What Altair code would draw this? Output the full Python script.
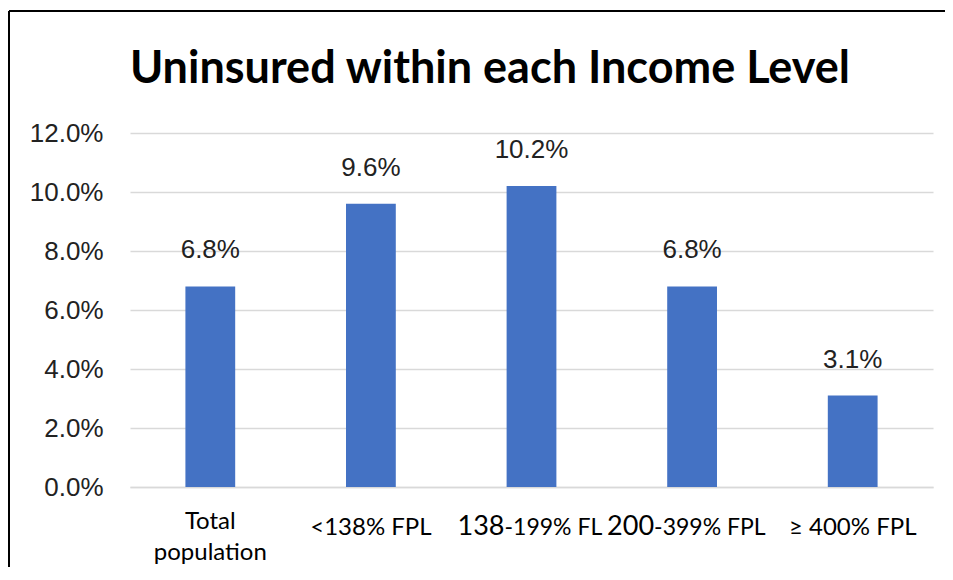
import altair as alt
import pandas as pd

categories = ["Total population", "<138% FPL", "138-199% FL", "200-399% FPL", "≥ 400% FPL"]
values = [6.8, 9.6, 10.2, 6.8, 3.1]
y_ticks = [0, 2, 4, 6, 8, 10, 12]
title_text = "Uninsured within each Income Level"

df = pd.DataFrame({"cat": categories, "val": values})
df["lbl"] = [f"{v:.1f}%" for v in values]

xs = alt.Scale(paddingInner=0.69, paddingOuter=0.345)
x_enc = alt.X("cat:N", sort=categories, scale=xs,
              axis=alt.Axis(title=None, labels=False, ticks=False,
                            domainColor="#d9d9d9", domainWidth=1.5, grid=False))
y_enc = alt.Y("val:Q", scale=alt.Scale(domain=[0, 12], nice=False),
              axis=alt.Axis(title=None, values=y_ticks, labelExpr="format(datum.value, '.1f') + '%'",
                            labelFont="Liberation Sans", labelFontSize=26, labelColor="#222222",
                            labelPadding=27, ticks=False, domain=False,
                            gridColor="#d9d9d9", gridWidth=1.5))

base = alt.Chart(df)
bars = base.mark_bar(color="#4472C4").encode(x=x_enc, y=y_enc)
labels = base.mark_text(font="Liberation Sans", fontSize=26, color="#222222",
                        baseline="alphabetic", dy=-28).encode(
    x=alt.X("cat:N", sort=categories), y="val:Q", text="lbl:N")

def xlab(cat, text, size, dx=0, dy=48, align="center", **kw):
    return base.transform_filter(alt.datum.cat == cat).mark_text(
        font="Lato", fontSize=size, color="#000000", baseline="alphabetic",
        align=align, dx=dx, dy=dy, **kw).encode(
        x=alt.X("cat:N", sort=categories), y=alt.datum(0), text=alt.value(text))

xlabels = [
    xlab("Total population", ["Total", "population"], 24, dy=42, lineHeight=31),
    xlab("<138% FPL", "<138% FPL", 24),
    xlab("138-199% FL", "138", 27, dx=-27, align="right"),
    xlab("138-199% FL", "-199% FL", 23, dx=-27, align="left"),
    xlab("200-399% FPL", "200", 27, dx=-38, align="right"),
    xlab("200-399% FPL", "-399% FPL", 23, dx=-38, align="left"),
    xlab("≥ 400% FPL", "≥ 400% FPL", 24),
]

title = base.transform_filter(alt.datum.cat == categories[0]).mark_text(
    font="Lato", fontSize=45, fontWeight="bold", color="#000000",
    baseline="alphabetic", align="center").encode(
    x=alt.value(360), y=alt.value(-50), text=alt.value(title_text))

frame_v = base.mark_rule(color="#000000", strokeWidth=2).encode(
    x=alt.value(-121), y=alt.value(-122), y2=alt.value(440))
frame_h = base.mark_rule(color="#000000", strokeWidth=2).encode(
    x=alt.value(-121), x2=alt.value(815), y=alt.value(-122))

chart = alt.layer(bars, labels, *xlabels, title, frame_v, frame_h).properties(
    width=803, height=354,
    autosize=alt.AutoSizeParams(type="none"),
    padding={"left": 122, "top": 125, "right": 12, "bottom": 80},
).configure_view(stroke=None)

chart.save("out.html", embed_options={"renderer": "svg", "actions": False})
